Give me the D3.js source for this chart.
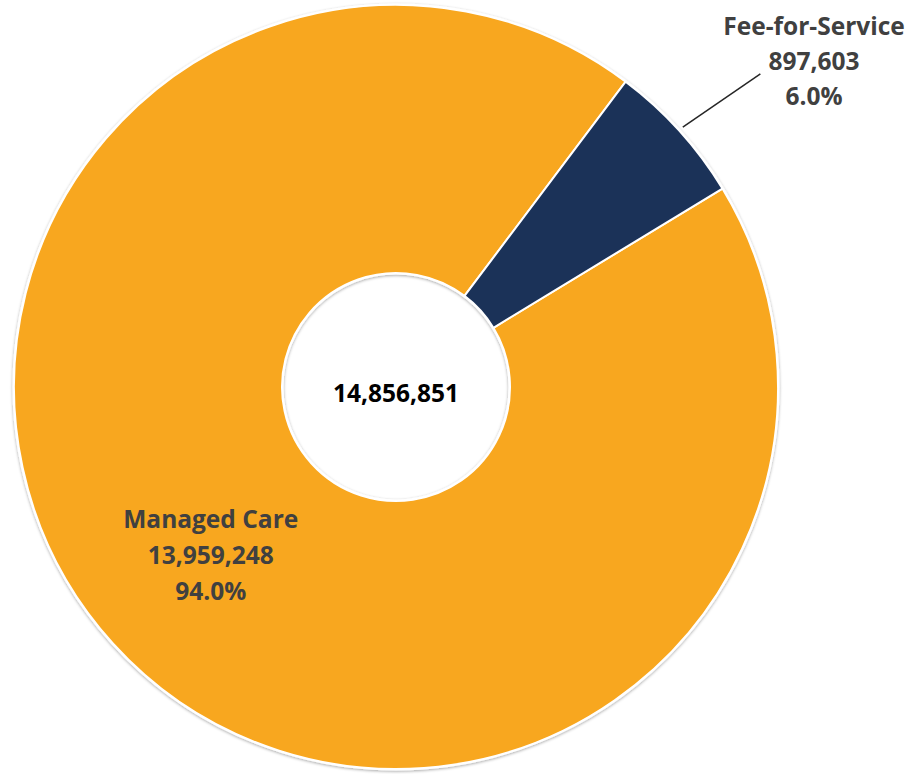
<!DOCTYPE html>
<html lang="en">
<head>
<meta charset="utf-8" />
<title>Enrollment by delivery system</title>
<script src="https://cdnjs.cloudflare.com/ajax/libs/d3/7.8.5/d3.min.js"></script>
<style>
  body { margin: 0; background: #fff; }
  text { font-family: "Open Sans", "Noto Sans", sans-serif; font-weight: 700; }
</style>
</head>
<body>
<script>
  /*************************** Data ***************************/
  var categories = ["Managed Care", "Fee-for-Service"];
  var counts = [13959248, 897603];
  var shares = ["94.0%", "6.0%"];
  var total = 14856851;
  var colors = ["#F8A71F", "#1B3258"];

  /*************************** Canvas ***************************/
  var width = 915, height = 774;
  var cx = 396, cy = 387;
  var outer_r = 382, inner_r = 114;

  var svg = d3.select("body").append("svg")
    .attr("width", width).attr("height", height);

  var defs = svg.append("defs");
  var shadow = defs.append("filter").attr("id", "shadow")
    .attr("x", "-10%").attr("y", "-10%").attr("width", "120%").attr("height", "120%");
  shadow.append("feDropShadow")
    .attr("dx", 0).attr("dy", 1).attr("stdDeviation", 1.6)
    .attr("flood-color", "#000").attr("flood-opacity", 0.35);

  var g = svg.append("g").attr("transform", "translate(" + cx + "," + cy + ")");

  // pie starts where Managed Care begins (just past the navy wedge)
  var start = 58.7 * Math.PI / 180;
  var pie = d3.pie().sort(null)
    .startAngle(start).endAngle(start + 2 * Math.PI)
    .value(function (d, i) { return counts[i]; });

  var arcs = pie(categories);

  var arc_gen = d3.arc().innerRadius(inner_r).outerRadius(outer_r);

  // shadowed ring behind the slices
  g.append("path")
    .attr("d", d3.arc().innerRadius(inner_r).outerRadius(outer_r)
      .startAngle(0).endAngle(2 * Math.PI)())
    .attr("fill", "#fff")
    .attr("stroke", "#fff").attr("stroke-width", 3)
    .attr("filter", "url(#shadow)");

  g.selectAll("path.slice")
    .data(arcs)
    .enter().append("path")
    .attr("class", "slice")
    .attr("d", arc_gen)
    .attr("fill", function (d, i) { return colors[i]; })
    .attr("stroke", "#fff")
    .attr("stroke-width", 2);

  /*************************** Labels ***************************/
  var inside_arc = d3.arc().innerRadius(250).outerRadius(250);
  var line_h = 36;
  var fsize = 24.5;

  // Managed Care label inside the slice
  var mc = inside_arc.centroid(arcs[0]);
  var mc_lines = [categories[0], d3.format(",")(counts[0]), shares[0]];
  g.append("text")
    .attr("x", mc[0]).attr("y", mc[1] - 27)
    .attr("text-anchor", "middle")
    .attr("font-size", fsize)
    .attr("fill", "#404040")
    .selectAll("tspan")
    .data(mc_lines)
    .enter().append("tspan")
    .attr("x", mc[0])
    .attr("dy", function (d, i) { return i === 0 ? 0 : line_h; })
    .text(function (d) { return d; });

  // Fee-for-Service label outside with leader line
  var mid = (arcs[1].startAngle + arcs[1].endAngle) / 2;
  var p0 = [Math.sin(mid) * (outer_r + 5), -Math.cos(mid) * (outer_r + 5)];
  var p1 = [Math.sin(mid) * 462 + 22, -Math.cos(mid) * 462 - 3];
  g.append("line")
    .attr("x1", p0[0]).attr("y1", p0[1])
    .attr("x2", p1[0]).attr("y2", p1[1])
    .attr("stroke", "#262626").attr("stroke-width", 1.5);

  var ffs_x = 814 - cx, ffs_y = 35 - cy;
  var ffs_lines = [categories[1], d3.format(",")(counts[1]), shares[1]];
  g.append("text")
    .attr("x", ffs_x).attr("y", ffs_y)
    .attr("text-anchor", "middle")
    .attr("font-size", fsize)
    .attr("fill", "#404040")
    .selectAll("tspan")
    .data(ffs_lines)
    .enter().append("tspan")
    .attr("x", ffs_x)
    .attr("dy", function (d, i) { return i === 0 ? 0 : 35; })
    .text(function (d) { return d; });

  // total in the hole
  g.append("text")
    .attr("x", 0).attr("y", 15)
    .attr("text-anchor", "middle")
    .attr("font-size", fsize)
    .attr("fill", "#000")
    .text(d3.format(",")(total));
</script>
</body>
</html>
